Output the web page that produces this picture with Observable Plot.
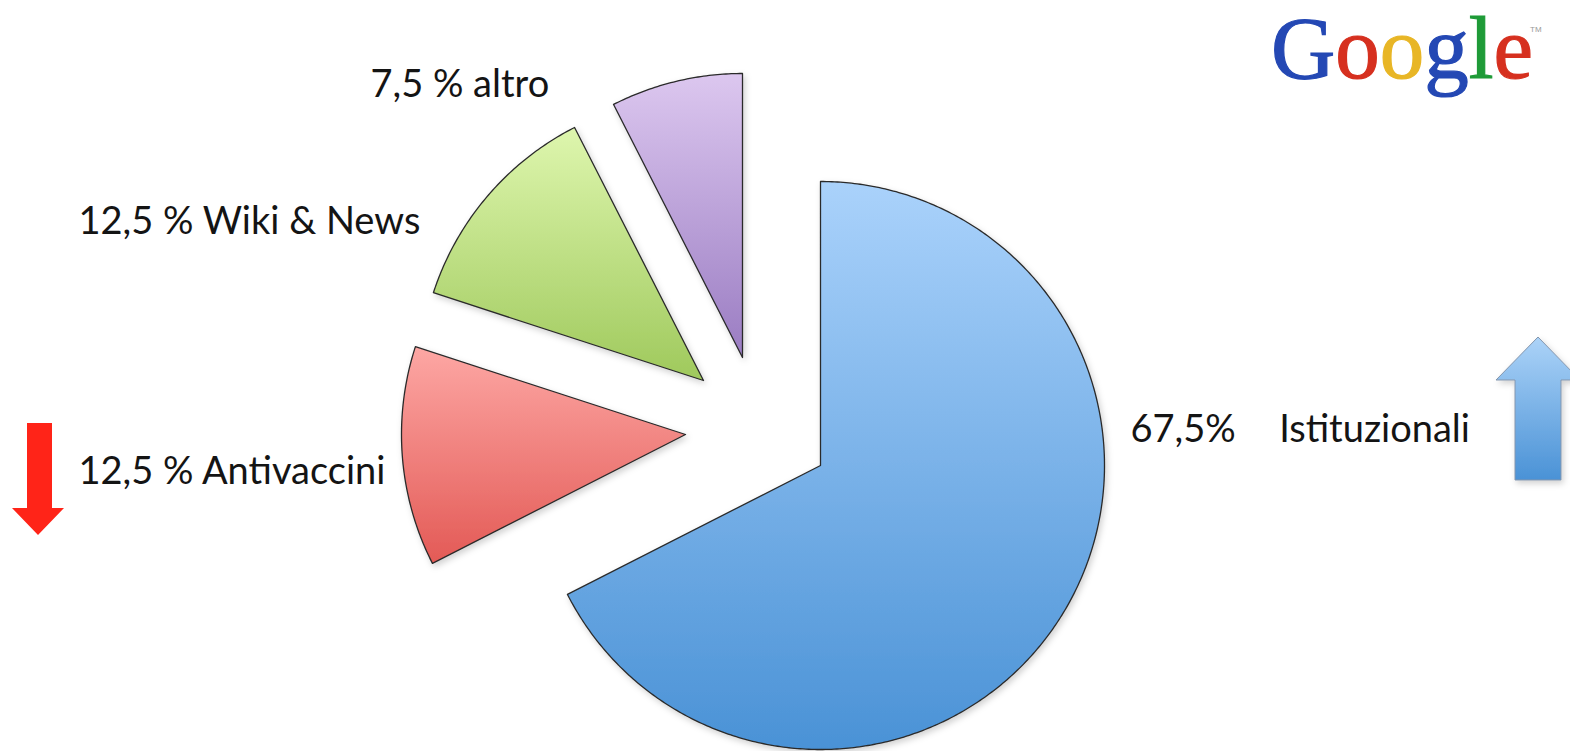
<!DOCTYPE html>
<html><head><meta charset="utf-8">
<script src="https://cdn.jsdelivr.net/npm/d3@7"></script>
<script src="https://cdn.jsdelivr.net/npm/@observablehq/plot@0.6"></script>
<style>html,body{margin:0;padding:0;background:#fff;overflow:hidden}</style>
</head><body><div id="chart"></div>
<script>
// ---- data ----
const categories = ["Istituzionali", "Antivaccini", "Wiki & News", "altro"];
const values = [67.5, 12.5, 12.5, 7.5];
const labels = ["67,5%  Istituzionali", "12,5 % Antivaccini", "12,5 % Wiki & News", "7,5 % altro"];

// ---- layout / style ----
const W = 1570, H = 751;
const center = [820, 465], radius = 284;
const explode = [[0, 0], [-135, -31], [-117, -85], [-78, -108]];
const labelPos = [[1130, 429], [78, 471], [78, 221], [370, 84]];
const labelWordSpacing = [12, 0, 0, 0];
const gradients = [["#aad2fb", "#4a92d6"], ["#fda7a4", "#e35a56"], ["#def6ae", "#9fc95c"], ["#dcc7ef", "#9a7cc2"]];

const arcs = d3.pie().sort(null).value(d => d)(values);
const pts = [];
arcs.forEach((a, i) => {
  const cx = center[0] + explode[i][0], cy = center[1] + explode[i][1];
  const n = Math.max(10, Math.ceil((a.endAngle - a.startAngle) / 0.01));
  const key = categories[i], grad = `url(#grad${i})`;
  pts.push({key, grad, x: cx, y: cy});
  for (let k = 0; k <= n; k++) {
    const t = a.startAngle + (a.endAngle - a.startAngle) * k / n;
    pts.push({key, grad, x: cx + radius * Math.sin(t), y: cy - radius * Math.cos(t)});
  }
});
const labelData = labels.map((t, i) => ({text: t, x: labelPos[i][0], y: labelPos[i][1]}));

const plot = Plot.plot({
  width: W, height: H, margin: 0,
  x: {domain: [0, W], range: [0, W], axis: null},
  y: {domain: [0, H], range: [0, H], axis: null},
  color: {type: "identity"},
  style: {background: "transparent"},
  marks: [
    Plot.line(pts, {x: "x", y: "y", z: "key", fill: "grad", stroke: "#2a2a2a", strokeWidth: 1.3,
      curve: "linear-closed", strokeLinejoin: "round"}),
    Plot.text(labelData, {x: "x", y: "y", text: "text", textAnchor: "start", fontSize: 38,
      fontFamily: "Lato", fill: "#141414"})
  ]
});
document.getElementById("chart").appendChild(plot);

const svg = d3.select(plot);
svg.selectAll("g[aria-label=text] text").attr("xml:space", "preserve").style("white-space", "pre")
  .style("word-spacing", (d, i) => labelWordSpacing[i] + "px");
const defs = svg.insert("defs", ":first-child");
gradients.forEach(([a, b], i) => {
  const g = defs.append("linearGradient").attr("id", `grad${i}`)
    .attr("x1", 0).attr("y1", 0).attr("x2", 0).attr("y2", 1);
  g.append("stop").attr("offset", "0%").attr("stop-color", a);
  g.append("stop").attr("offset", "100%").attr("stop-color", b);
});
const ga = defs.append("linearGradient").attr("id", "gradArrow")
  .attr("x1", 0).attr("y1", 0).attr("x2", 0).attr("y2", 1);
ga.append("stop").attr("offset", "0%").attr("stop-color", "#acd3f8");
ga.append("stop").attr("offset", "100%").attr("stop-color", "#4a92d6");
const f = defs.append("filter").attr("id", "shadow").attr("x", "-10%").attr("y", "-10%").attr("width", "130%").attr("height", "130%");
f.append("feDropShadow").attr("dx", 2).attr("dy", 3).attr("stdDeviation", 3).attr("flood-color", "#000").attr("flood-opacity", 0.18);
svg.selectAll("g[aria-label=line] path").attr("filter", "url(#shadow)");

// decorations: arrows
svg.append("path").attr("d", "M27,423H52V508H64L38,535L12,508H27Z").attr("fill", "#ff2418");
svg.append("path").attr("d", "M1538,337L1580,380H1561V480H1515V380H1496Z")
  .attr("fill", "url(#gradArrow)").attr("stroke", "#8496ad").attr("stroke-width", 1).attr("filter", "url(#shadow)");

// Google logo
const logo = svg.append("text").attr("x", 1271).attr("y", 78).attr("text-anchor", "start")
  .attr("font-family", "Liberation Serif").attr("font-size", 89).attr("stroke-width", 1.2);
[["G", "#2448b4"], ["o", "#d6301f"], ["o", "#e8b626"], ["g", "#2448b4"], ["l", "#1f9b38"], ["e", "#d6301f"]]
  .forEach(([c, col]) => logo.append("tspan").attr("fill", col).attr("stroke", col).text(c));
svg.append("text").attr("x", 1530).attr("y", 32).attr("text-anchor", "start").attr("font-family", "Liberation Sans")
  .attr("font-size", 8).attr("fill", "#999").text("TM");
</script></body></html>
